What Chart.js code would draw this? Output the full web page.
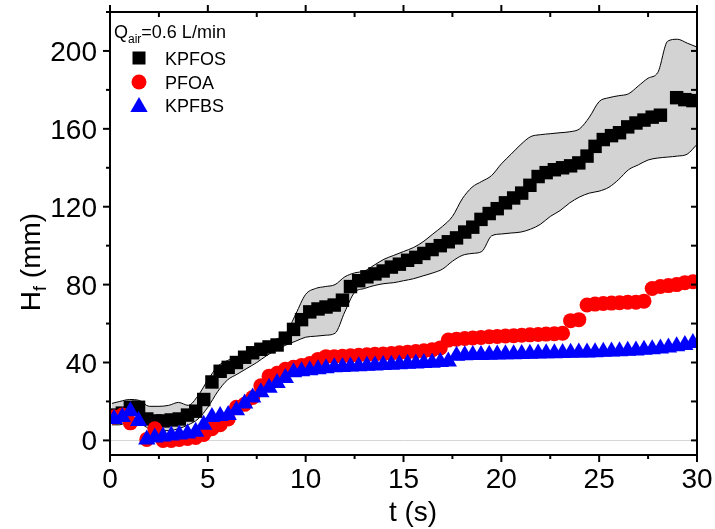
<!DOCTYPE html>
<html>
<head>
<meta charset="utf-8">
<script src="https://cdn.jsdelivr.net/npm/chart.js@4.4.0/dist/chart.umd.min.js"></script>
<style>
  html, body { margin: 0; padding: 0; background: #fff; }
  #wrap { width: 715px; height: 529px; }
</style>
</head>
<body>
<div id="wrap"><canvas id="chart" width="715" height="529"></canvas></div>
<script>
// sample times (s), shared by the three series
const times = [
  0.21, 0.63, 1.04, 1.46, 1.88, 2.29, 2.71, 3.13, 3.54, 3.96,
  4.38, 4.79, 5.21, 5.63, 6.04, 6.46, 6.88, 7.29, 7.71, 8.13,
  8.54, 8.96, 9.38, 9.79, 10.21, 10.63, 11.04, 11.46, 11.88, 12.29,
  12.71, 13.13, 13.54, 13.96, 14.38, 14.79, 15.21, 15.63, 16.04, 16.46,
  16.88, 17.29, 17.71, 18.13, 18.54, 18.96, 19.38, 19.79, 20.21, 20.63,
  21.04, 21.46, 21.88, 22.29, 22.71, 23.13, 23.54, 23.96, 24.38, 24.79,
  25.21, 25.63, 26.04, 26.46, 26.88, 27.29, 27.71, 28.13, 28.54, 28.96,
  29.38, 29.79
];

// foam height H_f (mm)
const kpfos = [
  13, 14, 17, 17, 11, 10, 10, 10.5, 11, 13,
  15, 21, 30, 35.5, 37.5, 40, 42.7, 45, 46.8, 48,
  49, 52.5, 57, 62, 66, 67.5, 68.5, 69.5, 72, 79,
  82, 84, 85.5, 87, 89, 90.5, 92.5, 94, 96, 98,
  100, 102, 104, 107, 109.5, 113.5, 116.5, 119, 122, 124.5,
  127, 131, 135.5, 137.5, 139, 140, 141, 142.5, 146, 151,
  154.5, 156.5, 158, 161, 163, 164.5, 166, 167, null, 176,
  175, 174.5
];
const pfoa = [
  12, 13, 9, null, 0.5, 6, 0, 0, 0.5, 1,
  1.5, 3, 6, 8, 11, 17, 18.5, 22, 28, 33,
  34.5, 36.5, 37.5, 38.5, 39.5, 41.6, 43, 43, 43.2, 43.5,
  43.7, 44, 44.2, 44.4, 44.6, 45, 45.3, 45.6, 46, 46.5,
  47.5, 51.5, 52, 52.3, 52.6, 52.9, 53.2, 53.4, 53.6, 53.8,
  54, 54.2, 54.4, 54.6, 54.8, 55, 61.5, 62, 69.5, 70,
  70.3, 70.5, 70.7, 71, 71, 71.5, 78, 79, 79.5, 80,
  81, 81.5
];
const kpfbs = [
  11, 12, 15, 10, 0.5, 1.5, 2, 2.5, 3, 3.5,
  4.5, 8, 12, 12.5, 13, 15.5, 19, 22, 24.7, 27,
  29.5, 32, 35, 35.5, 36, 36.5, 37, 37.5, 37.7, 37.9,
  38.1, 38.3, 38.5, 38.7, 38.9, 39.1, 39.3, 39.5, 39.7, 39.9,
  40.2, 40.5, 43.5, 43.7, 43.8, 43.9, 44, 44.1, 44.2, 44.3,
  44.4, 44.5, 44.6, 44.7, 44.8, 44.9, 45, 45.1, 45.2, 45.3,
  45.5, 45.6, 45.8, 46, 46.2, 46.5, 46.8, 47.2, 47.7, 48.3,
  49, 50
];

// grey spread band around KPFOS
const bandTimes = [
  0.1, 0.5, 1, 1.5, 2, 2.5, 3, 3.5, 4, 4.5,
  5, 5.5, 6, 6.5, 7, 7.5, 8, 8.5, 9, 9.5,
  10, 10.5, 11, 11.5, 12, 12.5, 13, 13.5, 14, 14.5,
  15, 15.5, 16, 16.5, 17, 17.5, 18, 18.5, 19, 19.5,
  20, 20.5, 21, 21.5, 22, 22.5, 23, 23.5, 24, 24.5,
  25, 25.5, 26, 26.5, 27, 27.5, 28, 28.5, 29, 29.5,
  30
];
const bandUpper = [
  19, 20, 21, 20.5, 17.5, 17.5, 18, 19.5, 18, 23,
  31, 38, 41, 43, 45, 47, 50, 52, 55, 65,
  75, 78, 79, 80, 84, 86, 87, 90, 93, 95,
  97, 99, 102, 106, 110, 115, 124, 130, 133, 136,
  142, 147, 152, 156, 157, 157.5, 158, 158.5, 160, 166,
  174, 176, 177, 178, 182, 186, 189, 205, 206, 204,
  202
];
const bandLower = [
  8, 8, 10, 9, 6, 5, 5, 6, 8, 11,
  17, 25, 31, 34, 37, 40, 43.5, 46.5, 49, 51,
  53, 53.5, 54, 55, 66, 76, 78, 79.5, 80.5, 81,
  82, 83, 84.5, 86, 88, 92, 95, 96, 97, 105,
  106, 106.5, 107, 108.5, 111, 115, 118, 122, 125, 127,
  128, 130, 134, 139, 141.5, 144, 145, 145.5, 146, 147,
  152
];

const xTicks = [0, 5, 10, 15, 20, 25, 30];
const xMinor = [2.5, 7.5, 12.5, 17.5, 22.5, 27.5];
const yTicks = [0, 40, 80, 120, 160, 200];
const yMinor = [20, 60, 100, 140, 180, 220];

const FONT = '"Liberation Sans", Arial, sans-serif';

function toXY(xs, ys) {
  return xs.map((x, i) => ({ x: x, y: ys[i] })).filter(p => p.y !== null);
}

const series = [
  { label: 'KPFOS', data: kpfos, color: '#000000', style: 'rect', radius: 9.5, order: 3 },
  { label: 'PFOA', data: pfoa, color: '#ff0000', style: 'circle', radius: 7.5, order: 2 },
  { label: 'KPFBS', data: kpfbs, color: '#0000ff', style: 'triangle', radius: 10, order: 1 }
];

// axes frame, ticks, labels, titles and legend
const framePlugin = {
  id: 'frame',
  beforeDatasetsDraw(chart) {
    const { ctx, chartArea: a, scales: { y } } = chart;
    const y0 = Math.round(y.getPixelForValue(0)) + 0.5;
    ctx.save();
    ctx.strokeStyle = '#d6d6d6';
    ctx.lineWidth = 1;
    ctx.beginPath();
    ctx.moveTo(a.left, y0);
    ctx.lineTo(a.right, y0);
    ctx.stroke();
    ctx.restore();
  },
  afterDraw(chart) {
    const { ctx, chartArea: a, scales: { x, y } } = chart;
    ctx.save();
    ctx.strokeStyle = '#000';
    ctx.fillStyle = '#000';
    ctx.lineWidth = 2;
    ctx.strokeRect(a.left, a.top, a.right - a.left, a.bottom - a.top);

    function line(x1, y1, x2, y2) {
      ctx.beginPath();
      ctx.moveTo(x1, y1);
      ctx.lineTo(x2, y2);
      ctx.stroke();
    }
    xTicks.forEach(v => {
      const px = x.getPixelForValue(v);
      line(px, a.bottom, px, a.bottom + 7);
      line(px, a.top, px, a.top - 7);
    });
    xMinor.forEach(v => {
      const px = x.getPixelForValue(v);
      line(px, a.bottom, px, a.bottom + 4);
      line(px, a.top, px, a.top + 5);
    });
    yTicks.forEach(v => {
      const py = y.getPixelForValue(v);
      line(a.left, py, a.left - 7, py);
      line(a.right, py, a.right - 6, py);
    });
    yMinor.forEach(v => {
      const py = y.getPixelForValue(v);
      line(a.left, py, a.left - 4, py);
      line(a.right, py, a.right - 6, py);
    });

    // tick labels
    ctx.font = '28px ' + FONT;
    ctx.textAlign = 'center';
    ctx.textBaseline = 'alphabetic';
    xTicks.forEach(v => ctx.fillText(String(v), x.getPixelForValue(v), 488));
    ctx.textAlign = 'right';
    yTicks.forEach(v => ctx.fillText(String(v), a.left - 13, y.getPixelForValue(v) + 10));

    // axis titles
    ctx.textAlign = 'center';
    ctx.font = '28px ' + FONT;
    ctx.fillText('t (s)', 413, 521);

    ctx.save();
    ctx.translate(40, 262);
    ctx.rotate(-Math.PI / 2);
    ctx.textAlign = 'left';
    ctx.font = '28px ' + FONT;
    const wH = ctx.measureText('H').width;
    ctx.font = '18px ' + FONT;
    const wf = ctx.measureText('f').width;
    ctx.font = '28px ' + FONT;
    const wRest = ctx.measureText(' (mm)').width;
    let sx = -(wH + wf + wRest) / 2;
    ctx.fillText('H', sx, 0);
    sx += wH;
    ctx.font = '18px ' + FONT;
    ctx.fillText('f', sx, 6);
    sx += wf;
    ctx.font = '28px ' + FONT;
    ctx.fillText(' (mm)', sx, 0);
    ctx.restore();

    // legend
    ctx.textAlign = 'left';
    ctx.font = '18px ' + FONT;
    let lx = 114;
    ctx.fillText('Q', lx, 38);
    lx += ctx.measureText('Q').width;
    ctx.font = '12px ' + FONT;
    ctx.fillText('air', lx, 43);
    lx += ctx.measureText('air').width;
    ctx.font = '18px ' + FONT;
    ctx.fillText('=0.6 L/min', lx, 38);

    const rowY = [58, 82, 105];
    series.forEach((s, i) => {
      ctx.fillStyle = s.color;
      Chart.helpers.drawPoint(ctx, {
        pointStyle: s.style,
        radius: s.style === 'rect' ? 9.2 : (s.style === 'circle' ? 7.5 : 10),
        rotation: 0,
        borderWidth: 0
      }, 139, rowY[i] + (s.style === 'triangle' ? 2 : 0));
      ctx.fillStyle = '#000';
      ctx.font = '18px ' + FONT;
      ctx.fillText(s.label, 165, rowY[i] + 6.5);
    });
    ctx.restore();
  }
};

const datasets = [
  {
    type: 'line',
    label: 'upper',
    data: toXY(bandTimes, bandUpper),
    borderColor: '#000',
    borderWidth: 1,
    pointRadius: 0,
    fill: false,
    cubicInterpolationMode: 'monotone',
    order: 10,
    clip: 0
  },
  {
    type: 'line',
    label: 'lower',
    data: toXY(bandTimes, bandLower),
    borderColor: '#000',
    borderWidth: 1,
    pointRadius: 0,
    fill: '-1',
    backgroundColor: '#d3d3d3',
    cubicInterpolationMode: 'monotone',
    order: 10,
    clip: 0
  }
];
series.forEach(s => {
  datasets.push({
    type: 'scatter',
    label: s.label,
    data: toXY(times, s.data),
    pointStyle: s.style,
    pointRadius: s.radius,
    pointHoverRadius: s.radius,
    pointBackgroundColor: s.color,
    pointBorderColor: s.color,
    pointBorderWidth: 0,
    showLine: false,
    order: s.order,
    clip: 0
  });
});

new Chart(document.getElementById('chart'), {
  type: 'scatter',
  data: { datasets: datasets },
  options: {
    responsive: false,
    devicePixelRatio: 1,
    animation: false,
    layout: { padding: { top: 12, right: 18, bottom: 0, left: 0 } },
    plugins: {
      legend: { display: false },
      tooltip: { enabled: false }
    },
    scales: {
      x: {
        type: 'linear',
        min: 0,
        max: 30,
        ticks: { display: false },
        grid: { display: false },
        border: { display: false },
        afterFit(s) { s.height = 74; }
      },
      y: {
        type: 'linear',
        min: -7.5,
        max: 220,
        ticks: { display: false },
        grid: { display: false },
        border: { display: false },
        afterFit(s) { s.width = 110; }
      }
    }
  },
  plugins: [framePlugin]
});
</script>
</body>
</html>
